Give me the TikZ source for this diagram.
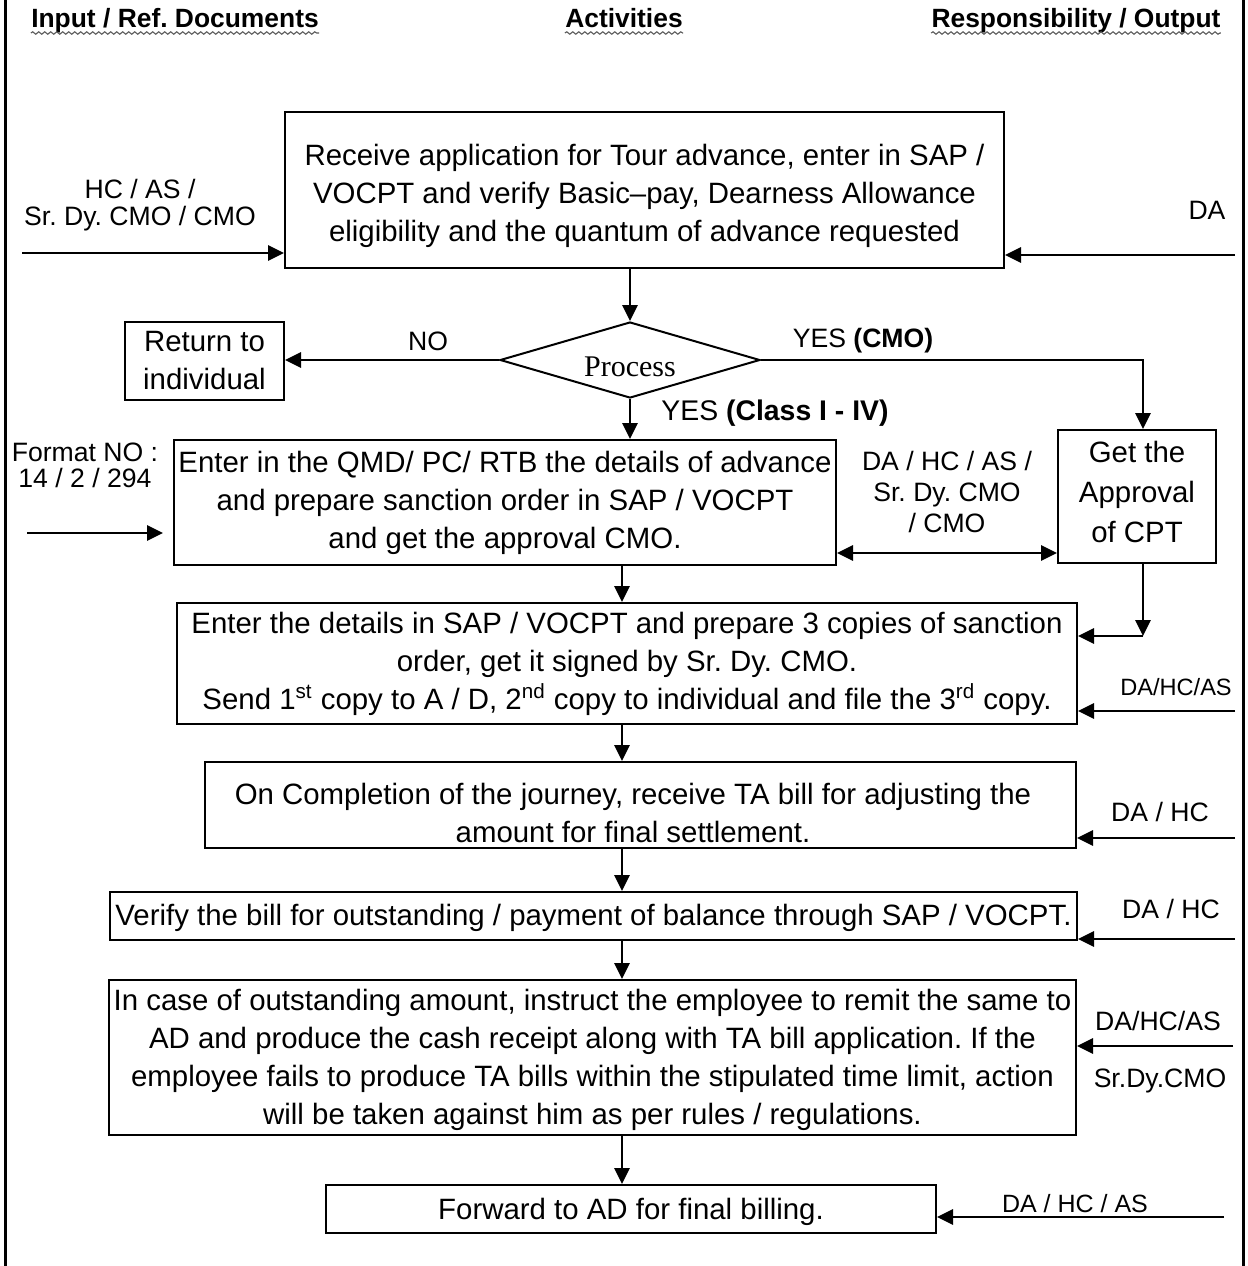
\documentclass[tikz,border=0pt]{standalone}
\usepackage{fontspec}
\setmainfont{Liberation Sans}
\newfontfamily\procfont{Liberation Serif}
\usetikzlibrary{arrows.meta,shapes.geometric,decorations.pathmorphing}
\frenchspacing

\begin{document}
\begin{tikzpicture}[x=0.5pt,y=-0.5pt,
  box/.style={draw,line width=1pt,align=center,inner sep=0pt,
    font=\fontsize{14.7}{19}\selectfont},
  btxt/.style={align=center,inner sep=0pt,font=\fontsize{14.7}{19}\selectfont},
  lbl/.style={align=center,inner sep=0pt,font=\fontsize{13.3}{14}\selectfont},
  arr/.style={line width=1.4pt,-{Triangle[length=8pt,width=7.5pt]}},
  dbl/.style={line width=1.4pt,{Triangle[length=8pt,width=7.5pt]}-{Triangle[length=8pt,width=7.5pt]}},
  hdr/.style={inner sep=0pt,anchor=base,font=\fontsize{13.2}{15}\bfseries\selectfont},
  squig/.style={draw=gray!70!black,line width=0.55pt,decorate,
    decoration={snake,amplitude=0.6pt,segment length=3pt}},
  frame/.style={line width=1.5pt}
]
\useasboundingbox (0,0) rectangle (1248,1266);

% page frame (side rules)
\draw[frame] (5,0) -- (5,1266);
\draw[frame] (1243,0) -- (1243,1266);

% column headings
\node[hdr] (hin)  at (175,27)  {Input / Ref. Documents};
\node[hdr] (hact) at (624,27)  {Activities};
\node[hdr] (hout) at (1076,27) {Responsibility / Output};
\foreach \h in {hin,hact,hout}
  \draw[squig] ([yshift=-3pt]\h.base west) -- ([yshift=-3pt]\h.base east);

% activity boxes
\node[box,minimum width=359.5pt,minimum height=78pt] (recv) at (644.5,190) {};
\node[btxt] (recvtxt) at (644.5,196)
  {Receive application for Tour advance, enter in SAP /\\
   VOCPT and verify Basic–pay, Dearness Allowance\\
   eligibility and the quantum of advance requested};

\node[draw,diamond,line width=1pt,minimum width=130pt,minimum height=38pt,inner sep=0pt] (proc) at (630,360) {};
\node[inner sep=0pt,font=\procfont\fontsize{15}{17}\selectfont] (proctxt) at (630,367) {Process};

\node[box,minimum width=79.5pt,minimum height=39pt] (ret) at (204.5,361)
  {Return to\\individual};

\node[box,minimum width=79pt,minimum height=66.5pt] (appr) at (1137,496.5) {};
\node[btxt,font=\fontsize{14.7}{20}\selectfont] (apprtxt) at (1137,492)
  {Get the\\Approval\\of CPT};

\node[box,minimum width=331pt,minimum height=62.5pt] (enter) at (505,502.5)
  {Enter in the QMD/ PC/ RTB the details of advance\\
   and prepare sanction order in SAP / VOCPT\\
   and get the approval CMO.};

\node[box,minimum width=450pt,minimum height=60.5pt] (sanc) at (627,663.5)
  {Enter the details in SAP / VOCPT and prepare 3 copies of sanction\\
   order, get it signed by Sr. Dy. CMO.\\
   Send 1\textsuperscript{st} copy to A / D, 2\textsuperscript{nd} copy to individual and file the 3\textsuperscript{rd} copy.};

\node[box,minimum width=435.5pt,minimum height=43pt] (compl) at (640.5,805) {};
\node[btxt] (compltxt) at (633,813)
  {On Completion of the journey, receive TA bill for adjusting the\\
   amount for final settlement.};

\node[box,minimum width=483.5pt,minimum height=24pt] (verify) at (593.5,916) {};
\node[btxt] (verifytxt) at (593.5,918)
  {Verify the bill for outstanding / payment of balance through SAP / VOCPT.};

\node[box,minimum width=483.5pt,minimum height=77.5pt] (outst) at (592.5,1057.5) {};
\node[btxt] (outsttxt) at (592.5,1059.5)
  {In case of outstanding amount, instruct the employee to remit the same to\\
   AD and produce the cash receipt along with TA bill application. If the\\
   employee fails to produce TA bills within the stipulated time limit, action\\
   will be taken against him as per rules / regulations.};

\node[box,minimum width=305pt,minimum height=24pt] (fwd) at (631,1209) {};
\node[btxt] (fwdtxt) at (631,1212) {Forward to AD for final billing.};

% main flow
\coordinate (mx) at (622,0);
\draw[arr] (proc.north |- recv.south) -- (proc.north);
\draw[arr] (proc.west) -- (proc.west -| ret.east);
\node[lbl] (nolbl) at (428,341) {NO};

\coordinate (yc) at (1143,360);
\draw[arr] (proc.east) -- (yc) -- (appr.north -| yc);
\node[lbl] (cmolbl) at (863,341) {YES \textbf{(CMO)}};

\draw[arr] (proc.south) -- (proc.south |- enter.north);
\node[lbl,font=\fontsize{14.2}{15}\selectfont] (clslbl) at (775,413) {YES \textbf{(Class I - IV)}};

\coordinate (dy) at (0,553);
\draw[dbl] (enter.east |- dy) -- (appr.west |- dy);
\node[align=center,inner sep=0pt,font=\fontsize{13.3}{15.5}\selectfont] (midlbl) at (947,492)
  {DA / HC / AS /\\Sr. Dy. CMO\\/ CMO};

\coordinate (ac) at (1143,636);
\draw[arr] (appr.south -| ac) -- (ac);
\draw[arr] (ac) -- (sanc.east |- ac);

\draw[arr] (enter.south -| mx) -- (sanc.north -| mx);
\draw[arr] (sanc.south -| mx) -- (compl.north -| mx);
\draw[arr] (compl.south -| mx) -- (verify.north -| mx);
\draw[arr] (verify.south -| mx) -- (outst.north -| mx);
\draw[arr] (outst.south -| mx) -- (fwd.north -| mx);

% inputs on the left
\node[align=center,inner sep=0pt,font=\fontsize{13.3}{13.5}\selectfont] (inlbl) at (140,205)
  {HC / AS /\\Sr. Dy. CMO / CMO};
\coordinate (l1) at (22,253);
\draw[arr] (l1) -- (recv.west |- l1);

\node[align=center,inner sep=0pt,font=\fontsize{13.3}{13}\selectfont] (fmtlbl) at (85,465)
  {Format NO :\\14 / 2 / 294};
\coordinate (f0) at (27,533);
\coordinate (f1) at (163,533);
\draw[arr] (f0) -- (f1);

% responsibilities on the right
\node[lbl] (o1) at (1207,210) {DA};
\coordinate (r1) at (1235,255);
\draw[arr] (r1) -- (recv.east |- r1);

\node[lbl,font=\fontsize{11.8}{13}\selectfont] (o3) at (1176,687) {DA/HC/AS};
\coordinate (r3) at (1235,711);
\draw[arr] (r3) -- (sanc.east |- r3);

\node[lbl] (o4) at (1160,812) {DA / HC};
\coordinate (r4) at (1235,838);
\draw[arr] (r4) -- (compl.east |- r4);

\node[lbl] (o5) at (1171,909) {DA / HC};
\coordinate (r5) at (1235,939);
\draw[arr] (r5) -- (verify.east |- r5);

\node[lbl] (o6) at (1158,1021) {DA/HC/AS};
\node[lbl] (o6b) at (1160,1081) {Sr.Dy.CMO};
\coordinate (r6) at (1233,1046);
\draw[arr] (r6) -- (outst.east |- r6);

\node[inner sep=0pt,font=\fontsize{12.5}{14}\selectfont] (o7) at (1075,1204) {DA / HC / AS};
\coordinate (r7) at (1224,1217);
\draw[arr] (r7) -- (fwd.east |- r7);
\end{tikzpicture}
\end{document}
